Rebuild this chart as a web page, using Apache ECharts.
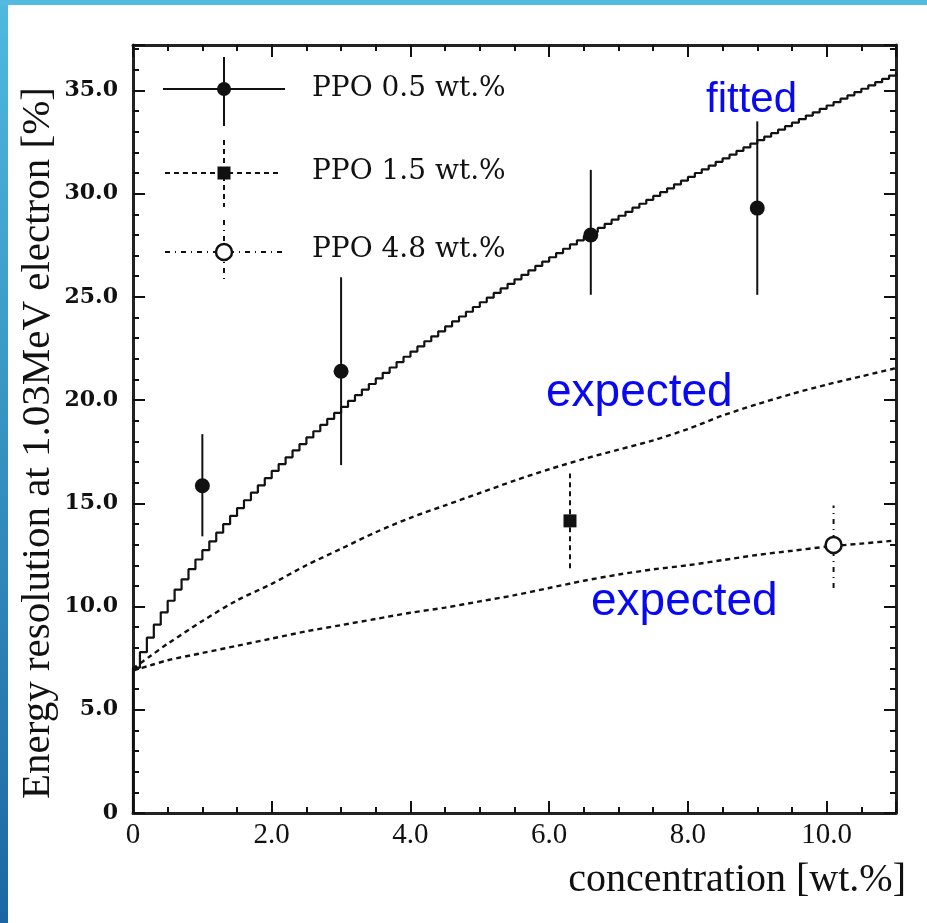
<!DOCTYPE html>
<html>
<head>
<meta charset="utf-8">
<script src="https://cdn.jsdelivr.net/npm/echarts@6/dist/echarts.min.js"></script>
<style>
html,body{margin:0;padding:0;background:#fff;}
#chart{width:927px;height:923px;}
</style>
</head>
<body>
<div id="chart"></div>
<script>
// ---- data ----
// PPO 0.5 wt.% measured points (filled circles, solid error bars)
const ppo05X  = [1.0, 3.0, 6.6, 9.0];
const ppo05Y  = [15.85, 21.4, 28.0, 29.3];
const ppo05Lo = [13.4, 16.85, 25.1, 25.1];
const ppo05Hi = [18.35, 25.95, 31.15, 33.5];
// PPO 1.5 wt.% (filled square, dashed error bar)
const ppo15X  = [6.3];
const ppo15Y  = [14.15];
const ppo15Lo = [11.85];
const ppo15Hi = [16.45];
// PPO 4.8 wt.% (open circle, dash-dot error bar)
const ppo48X  = [10.1];
const ppo48Y  = [12.98];
const ppo48Lo = [10.9];
const ppo48Hi = [14.9];

// fitted curve: histogram with 0.1 wt.% bins, value of each bin (bin left edges 0.0 .. 11.0)
const fitStart = 0.0;
const fitBin = 0.1;
const fitValues = [
 7.04, 7.79, 8.49, 9.12, 9.72,10.28,10.82,11.32,11.81,12.28,
12.73,13.16,13.58,13.99,14.39,14.77,15.15,15.52,15.87,16.22,
16.57,16.90,17.23,17.56,17.87,18.19,18.49,18.80,19.09,19.38,
19.67,19.96,20.24,20.51,20.78,21.05,21.32,21.58,21.84,22.10,
22.35,22.60,22.85,23.09,23.33,23.57,23.81,24.05,24.28,24.51,
24.74,24.96,25.19,25.41,25.63,25.85,26.07,26.28,26.50,26.71,
26.92,27.12,27.33,27.54,27.74,27.94,28.14,28.34,28.54,28.74,
28.93,29.12,29.32,29.51,29.70,29.89,30.07,30.26,30.45,30.63,
30.81,31.00,31.18,31.36,31.54,31.71,31.89,32.07,32.24,32.42,
32.59,32.76,32.93,33.10,33.27,33.44,33.61,33.78,33.94,34.11,
34.27,34.43,34.60,34.76,34.92,35.08,35.24,35.40,35.56,35.72,
35.87];

// expected curves
const expX     = [0, 0.25, 0.5, 1, 1.5, 2, 2.5, 3, 3.5, 4, 4.5, 5, 5.5, 6, 6.5, 7, 7.5, 8, 8.5, 9, 9.5, 10, 10.5, 11];
const exp15Y   = [7.0, 7.6, 8.2, 9.3, 10.3, 11.1, 12.0, 12.8, 13.6, 14.3, 14.9, 15.5, 16.1, 16.65, 17.15, 17.6, 18.05, 18.6, 19.25, 19.8, 20.3, 20.75, 21.15, 21.55];
const exp48Y   = [6.9, 7.15, 7.4, 7.75, 8.1, 8.45, 8.8, 9.1, 9.4, 9.7, 9.95, 10.25, 10.55, 10.9, 11.25, 11.55, 11.8, 12.0, 12.25, 12.5, 12.7, 12.9, 13.05, 13.2];

// axes
const xMin = 0, xMax = 11, xInterval = 2;
const yMin = 0, yMax = 37.2, yInterval = 5;

const legendLabels = ['PPO 0.5 wt.%', 'PPO 1.5 wt.%', 'PPO 4.8 wt.%'];
const xTitle = 'concentration [wt.%]';
const yTitle = 'Energy resolution at 1.03MeV electron [%]';
const annFitted = 'fitted';
const annExpected = 'expected';

// ---- build ----
const fitData = [[fitStart, 0]];
fitValues.forEach((v, i) => fitData.push([+(fitStart + i * fitBin).toFixed(2), v]));
const zip = (a, b) => a.map((v, i) => [v, b[i]]);
const zip3 = (a, b, c) => a.map((v, i) => [v, b[i], c[i]]);

function errBar(dash, width) {
  return function (params, api) {
    const x = api.value(0), lo = api.value(1), hi = api.value(2);
    const p1 = api.coord([x, lo]), p2 = api.coord([x, hi]);
    return {
      type: 'line',
      shape: { x1: p1[0], y1: p1[1], x2: p2[0], y2: p2[1] },
      style: { stroke: '#111', lineWidth: width, lineDash: dash }
    };
  };
}

const INK = '#111';
const serifTick = 'DejaVu Serif';
const serifX = 'Liberation Serif';

function xAxisCfg(pos, showLabel) {
  return {
    type: 'value', position: pos, min: xMin, max: xMax, interval: xInterval,
    axisLine: { show: true, onZero: false, lineStyle: { color: '#222', width: 3 } },
    axisTick: { show: true, inside: true, length: 12, lineStyle: { color: INK, width: 2 } },
    minorTick: { show: true, splitNumber: 4, length: 6, lineStyle: { color: INK, width: 2 } },
    splitLine: { show: false }, minorSplitLine: { show: false },
    axisLabel: {
      show: showLabel, showMaxLabel: false, margin: 8,
      fontFamily: serifX, fontSize: 29, color: INK,
      formatter: v => v === 0 ? '0' : v.toFixed(1)
    }
  };
}
function yAxisCfg(pos, showLabel) {
  return {
    type: 'value', position: pos, min: yMin, max: yMax, interval: yInterval,
    axisLine: { show: true, onZero: false, lineStyle: { color: '#222', width: 3 } },
    axisTick: { show: true, inside: true, length: 12, lineStyle: { color: INK, width: 2 } },
    minorTick: { show: true, splitNumber: 5, length: 6, lineStyle: { color: INK, width: 2 } },
    splitLine: { show: false }, minorSplitLine: { show: false },
    axisLabel: {
      show: showLabel, showMaxLabel: false, margin: 15,
      fontFamily: serifTick, fontSize: 22, fontWeight: 'bold', color: INK,
      formatter: v => v === 0 ? '0' : v.toFixed(1)
    }
  };
}

const chart = echarts.init(document.getElementById('chart'), null, { renderer: 'canvas' });

const legendFont = '28px "DejaVu Serif"';
const blueFont = (s) => s + 'px "Liberation Sans", Arial, sans-serif';
const BLUE = '#0808f2';

const option = {
  animation: false,
  backgroundColor: '#ffffff',
  grid: { left: 133, top: 45, right: 31, bottom: 110, containLabel: false, outerBoundsMode: 'none' },
  xAxis: [xAxisCfg('bottom', true), xAxisCfg('top', false)],
  yAxis: [yAxisCfg('left', true), yAxisCfg('right', false)],
  series: [
    {
      name: 'fitted', type: 'line', step: 'end', data: fitData, symbol: 'none',
      lineStyle: { color: INK, width: 2.2 }, z: 2
    },
    {
      name: 'expected 1.5', type: 'line', data: zip(expX, exp15Y), symbol: 'none', smooth: 0.3,
      lineStyle: { color: INK, width: 2.4, type: [5, 4] }, z: 2
    },
    {
      name: 'expected 4.8', type: 'line', data: zip(expX, exp48Y), symbol: 'none', smooth: 0.3,
      lineStyle: { color: INK, width: 2.4, type: [5, 4] }, z: 2
    },
    {
      name: 'err 0.5', type: 'custom', renderItem: errBar(null, 2),
      data: zip3(ppo05X, ppo05Lo, ppo05Hi), encode: { x: 0, y: [1, 2] }, z: 3
    },
    {
      name: 'err 1.5', type: 'custom', renderItem: errBar([5, 4], 2),
      data: zip3(ppo15X, ppo15Lo, ppo15Hi), encode: { x: 0, y: [1, 2] }, z: 3
    },
    {
      name: 'err 4.8', type: 'custom', renderItem: errBar([5, 5, 1, 5], 2),
      data: zip3(ppo48X, ppo48Lo, ppo48Hi), encode: { x: 0, y: [1, 2] }, z: 3
    },
    {
      name: legendLabels[0], type: 'scatter', data: zip(ppo05X, ppo05Y),
      symbol: 'circle', symbolSize: 15, itemStyle: { color: INK, opacity: 1 }, z: 4
    },
    {
      name: legendLabels[1], type: 'scatter', data: zip(ppo15X, ppo15Y),
      symbol: 'rect', symbolSize: 13, itemStyle: { color: INK, opacity: 1 }, z: 4
    },
    {
      name: legendLabels[2], type: 'scatter', data: zip(ppo48X, ppo48Y),
      symbol: 'circle', symbolSize: 16, itemStyle: { color: '#fff', borderColor: INK, borderWidth: 2.5, opacity: 1 }, z: 4
    }
  ],
  graphic: [
    // slide frame
    { type: 'rect', left: 0, top: 0, z: 100, shape: { x: 0, y: 0, width: 8, height: 923 },
      style: { fill: new echarts.graphic.LinearGradient(0, 0, 0, 1, [
        { offset: 0, color: '#4fb9de' }, { offset: 1, color: '#1c67a3' }]) } },
    { type: 'rect', left: 0, top: 0, z: 100, shape: { x: 0, y: 0, width: 927, height: 5 },
      style: { fill: '#52bbdf' } },
    // axis titles
    { type: 'text', x: 906, y: 880, z: 50,
      style: { text: xTitle, font: '40px "Liberation Serif"', fill: INK, align: 'right', verticalAlign: 'middle' } },
    { type: 'text', x: 38, y: 443, rotation: Math.PI / 2, z: 50,
      style: { text: yTitle, font: '41px "Liberation Serif"', fill: INK, align: 'center', verticalAlign: 'middle' } },
    // legend
    { type: 'line', z: 50, shape: { x1: 163, y1: 89, x2: 285, y2: 89 }, style: { stroke: INK, lineWidth: 2 } },
    { type: 'line', z: 50, shape: { x1: 224, y1: 57, x2: 224, y2: 126 }, style: { stroke: INK, lineWidth: 2 } },
    { type: 'circle', z: 51, shape: { cx: 224, cy: 89, r: 7 }, style: { fill: INK } },
    { type: 'text', x: 312, y: 89, z: 50, style: { text: legendLabels[0], font: legendFont, fill: INK, verticalAlign: 'middle' } },

    { type: 'line', z: 50, shape: { x1: 165, y1: 173, x2: 280, y2: 173 }, style: { stroke: INK, lineWidth: 2, lineDash: [5, 4] } },
    { type: 'line', z: 50, shape: { x1: 224, y1: 140, x2: 224, y2: 207 }, style: { stroke: INK, lineWidth: 2, lineDash: [5, 4] } },
    { type: 'rect', z: 51, shape: { x: 217.5, y: 166.5, width: 13, height: 13 }, style: { fill: INK } },
    { type: 'text', x: 312, y: 172, z: 50, style: { text: legendLabels[1], font: legendFont, fill: INK, verticalAlign: 'middle' } },

    { type: 'line', z: 50, shape: { x1: 165, y1: 252, x2: 283, y2: 252 }, style: { stroke: INK, lineWidth: 2, lineDash: [5, 5, 1, 5] } },
    { type: 'line', z: 50, shape: { x1: 224, y1: 220, x2: 224, y2: 284 }, style: { stroke: INK, lineWidth: 2, lineDash: [5, 5, 1, 5] } },
    { type: 'circle', z: 51, shape: { cx: 224, cy: 252, r: 8 }, style: { fill: '#fff', stroke: INK, lineWidth: 2.5 } },
    { type: 'text', x: 312, y: 250, z: 50, style: { text: legendLabels[2], font: legendFont, fill: INK, verticalAlign: 'middle' } },

    // blue annotations
    { type: 'text', x: 706, y: 100, z: 50, style: { text: annFitted, font: blueFont(42), fill: BLUE, verticalAlign: 'middle' } },
    { type: 'text', x: 546, y: 393, z: 50, style: { text: annExpected, font: blueFont(46), fill: BLUE, verticalAlign: 'middle' } },
    { type: 'text', x: 591, y: 602, z: 50, style: { text: annExpected, font: blueFont(46), fill: BLUE, verticalAlign: 'middle' } }
  ]
};
chart.setOption(option);
</script>
</body>
</html>
